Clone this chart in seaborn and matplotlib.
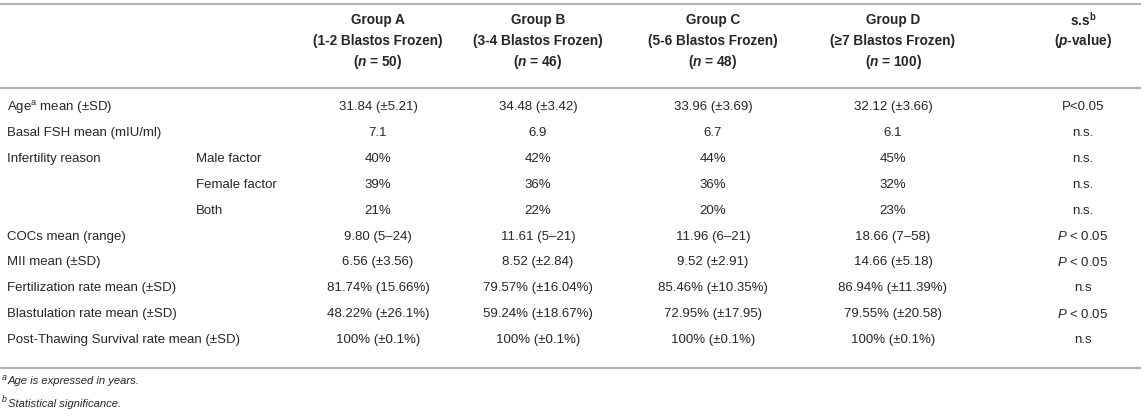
import matplotlib
matplotlib.use("Agg")
import matplotlib.pyplot as plt
import seaborn as sns

sns.set_theme(style="white")
plt.rcParams['font.family'] = ['Liberation Sans', 'DejaVu Sans']
plt.rcParams['mathtext.fontset'] = 'custom'
plt.rcParams['mathtext.rm'] = 'Liberation Sans'
plt.rcParams['mathtext.it'] = 'Liberation Sans:italic'
plt.rcParams['mathtext.bf'] = 'Liberation Sans:bold'
plt.rcParams['mathtext.bfit'] = 'Liberation Sans:italic:bold'

# table content
groups = ["Group A", "Group B", "Group C", "Group D"]
group_desc = ["(1-2 Blastos Frozen)", "(3-4 Blastos Frozen)", "(5-6 Blastos Frozen)", "(≥7 Blastos Frozen)"]
group_n = [50, 46, 48, 100]

row_labels = ["Age$^{\\rm a}$ mean (±SD)", "Basal FSH mean (mIU/ml)", "Infertility reason", "", "",
              "COCs mean (range)", "MII mean (±SD)", "Fertilization rate mean (±SD)",
              "Blastulation rate mean (±SD)", "Post-Thawing Survival rate mean (±SD)"]
sub_labels = ["", "", "Male factor", "Female factor", "Both", "", "", "", "", ""]

group_a = ["31.84 (±5.21)", "7.1", "40%", "39%", "21%", "9.80 (5–24)", "6.56 (±3.56)",
           "81.74% (15.66%)", "48.22% (±26.1%)", "100% (±0.1%)"]
group_b = ["34.48 (±3.42)", "6.9", "42%", "36%", "22%", "11.61 (5–21)", "8.52 (±2.84)",
           "79.57% (±16.04%)", "59.24% (±18.67%)", "100% (±0.1%)"]
group_c = ["33.96 (±3.69)", "6.7", "44%", "36%", "20%", "11.96 (6–21)", "9.52 (±2.91)",
           "85.46% (±10.35%)", "72.95% (±17.95)", "100% (±0.1%)"]
group_d = ["32.12 (±3.66)", "6.1", "45%", "32%", "23%", "18.66 (7–58)", "14.66 (±5.18)",
           "86.94% (±11.39%)", "79.55% (±20.58)", "100% (±0.1%)"]
p_values = ["P<0.05", "n.s.", "n.s.", "n.s.", "n.s.", "$P$ < 0.05", "$P$ < 0.05",
            "n.s", "$P$ < 0.05", "n.s"]

foot_marks = ["a", "b"]
foot_texts = ["Age is expressed in years.", "Statistical significance."]

# layout in pixel coordinates
W, H = 1145, 417
fig = plt.figure(figsize=(W / 100, H / 100), dpi=100)
ax = fig.add_axes([0, 0, 1, 1])
ax.set_xlim(0, W)
ax.set_ylim(H, 0)
ax.axis('off')

txt = '#262626'
fs = 9.5
hfs = 9.8
line_col = '#b4b4b4'
col_x = [378, 538, 713, 893, 1083]

for y in [4, 88, 368]:
    ax.plot([0, W - 4], [y, y], color=line_col, lw=1.6, solid_capstyle='butt')

# header
for i, g in enumerate(groups):
    ax.text(col_x[i], 20, g, ha='center', va='center', fontsize=hfs, fontweight='bold', color=txt)
    ax.text(col_x[i], 41, group_desc[i], ha='center', va='center', fontsize=hfs, fontweight='bold', color=txt)
    ax.text(col_x[i], 62, "($\\mathbfit{n}$ = %d)" % group_n[i], ha='center', va='center',
            fontsize=hfs, fontweight='bold', color=txt)
ax.text(col_x[4], 20, "s.s$^{\\mathbf{b}}$", ha='center', va='center', fontsize=hfs, fontweight='bold', color=txt)
ax.text(col_x[4], 41, "($\\mathbfit{p}$-value)", ha='center', va='center', fontsize=hfs, fontweight='bold', color=txt)

# body rows
row_y0, row_h = 107, 25.9
for r in range(len(row_labels)):
    y = row_y0 + r * row_h
    if row_labels[r]:
        ax.text(7, y, row_labels[r], ha='left', va='center', fontsize=fs, color=txt)
    if sub_labels[r]:
        ax.text(196, y, sub_labels[r], ha='left', va='center', fontsize=fs, color=txt)
    for c, vals in enumerate([group_a, group_b, group_c, group_d, p_values]):
        ax.text(col_x[c], y, vals[r], ha='center', va='center', fontsize=fs, color=txt)

# footnotes
for k in range(len(foot_texts)):
    y = 381 + k * 23
    ax.text(2, y - 4, foot_marks[k], ha='left', va='center', fontsize=6.3, style='italic', color=txt)
    ax.text(8, y, foot_texts[k], ha='left', va='center', fontsize=8.1, style='italic', color=txt)

fig.savefig("out.png", dpi=100)
